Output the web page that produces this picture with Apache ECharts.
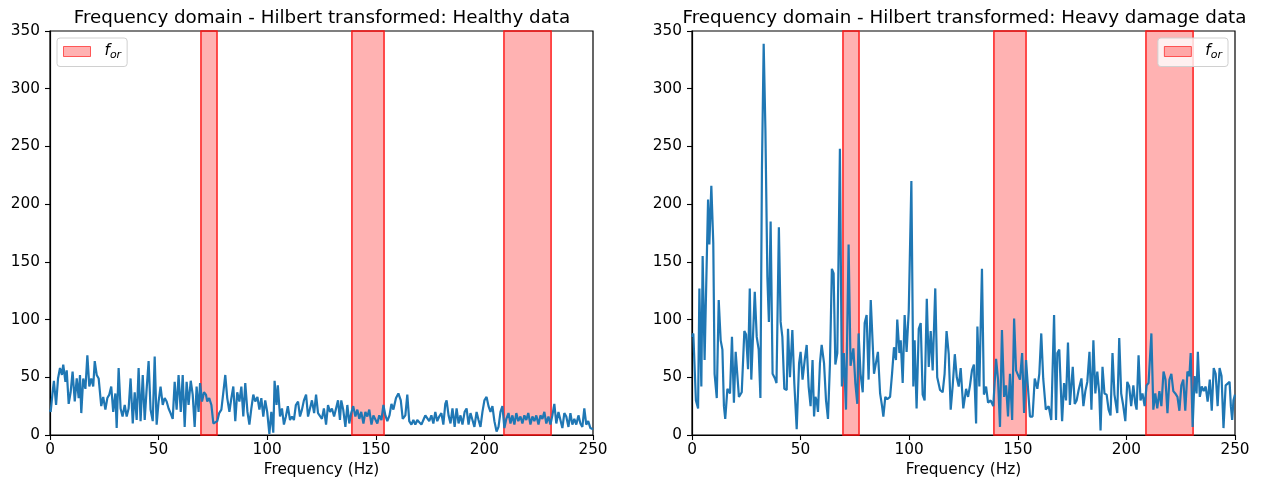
<!doctype html>
<html>
<head>
<meta charset="utf-8">
<title>Hilbert spectrum</title>
<script src="https://cdn.jsdelivr.net/npm/echarts@6/dist/echarts.min.js"></script>
<style>
  html, body { margin: 0; padding: 0; background: #fff; }
  #main { width: 1261px; height: 488px; }
</style>
</head>
<body>
<div id="main"></div>
<script>
var titles = ['Frequency domain - Hilbert transformed: Healthy data',
              'Frequency domain - Hilbert transformed: Heavy damage data'];
var xTicks = [0, 50, 100, 150, 200, 250];
var yTicks = [0, 50, 100, 150, 200, 250, 300, 350];
// shaded f_or bands, Hz
var bands = [[69.5, 76.9], [139, 153.8], [209, 230.7]];

// [frequency (Hz), amplitude]
var healthy = [
[0,22],[0.3,20],[1.2,37],[1.8,47],[2.8,26],[3.7,49],[4.6,58],[5.5,52],[6.1,61],[7.1,46],[7.7,56],[8.6,27],[9.5,37],
[10.4,55],[11.4,29],[12.3,49],[13.2,32],[13.8,52],[14.4,19],[15.3,49],[16.3,40],[17.2,69],[18.1,42],[19,49],[19.9,42],
[20.6,64],[21.5,52],[22.4,49],[23.6,25],[24.5,33],[25.5,22],[26.4,32],[27.3,35],[28.2,42],[29.1,20],[30.1,36],[30.7,6],
[31.6,58],[32.5,23],[33.4,16],[34.4,26],[35.3,16],[36.2,23],[37.1,49],[38.1,10],[39,37],[39.9,13],[40.8,58],[41.7,12],
[42.7,52],[43.6,13],[44.5,40],[45.4,64],[46.3,22],[47.3,12],[48.2,68],[49.1,9],[50,29],[50.9,42],[51.9,26],[52.8,32],
[53.7,29],[54.6,23],[55.5,19],[56.5,14],[57.4,46],[58.3,22],[59.2,52],[60.2,20],[61.1,52],[62,7],[62.9,46],[63.8,26],
[64.8,47],[65.7,35],[66.6,7],[67.5,42],[68.4,20],[69.1,45],[70,29],[70.9,37],[71.8,35],[72.4,29],[73.3,32],[74.3,26],
[75.2,10],[76.1,9],[77,12],[77.9,19],[78.9,22],[79.8,37],[80.7,52],[81.6,32],[82.6,20],[83.5,32],[84.4,42],[85.3,12],
[86.2,37],[87.2,29],[88.1,42],[89,16],[89.9,45],[90.9,20],[91.8,9],[92.7,23],[93.6,35],[94.5,29],[95.5,33],[96.4,22],
[97.3,32],[98.2,16],[99.1,30],[100,20],[101,1],[101.9,20],[102.8,2],[103.4,47],[104.3,26],[104.9,43],[105.9,16],
[106.8,23],[107.7,9],[108.6,16],[109.5,25],[110.5,13],[111.4,16],[112.3,13],[113.2,26],[114.2,29],[115.1,16],[116,22],
[116.9,30],[117.9,35],[118.8,16],[119.7,23],[120.6,30],[121.6,19],[122.5,35],[123.4,19],[124.3,18],[125.2,14],
[126.1,23],[127.1,9],[128,26],[128.9,20],[129.8,23],[130.8,16],[131.7,23],[132.6,30],[133.5,13],[134.1,30],[135,22],
[136,7],[136.9,26],[137.8,10],[138.7,19],[139.6,25],[140.6,16],[141.5,22],[142.4,14],[143.3,20],[144.3,10],[145.2,20],
[146.1,16],[147,22],[148,9],[148.9,17],[149.8,16],[150.7,10],[151.6,17],[152.6,13],[153.5,26],[154.4,17],[155.3,12],
[156.3,17],[157.2,27],[158.1,22],[159.3,32],[160.4,36],[161.5,30],[162.4,14],[163.6,17],[164.5,35],[165.4,12],
[166.4,9],[167.3,13],[168.2,9],[169.1,13],[170,14],[171,9],[171.9,13],[172.8,17],[173.7,16],[174.6,12],[175.6,17],
[176.5,10],[177.4,20],[178.3,12],[179.2,16],[180.2,19],[181.1,9],[182,27],[182.6,30],[183.5,17],[184.4,10],[185.3,23],
[186.3,7],[187.2,23],[188.1,10],[189,17],[189.9,9],[190.9,20],[191.8,23],[192.7,9],[193.6,19],[194.5,13],[195.4,7],
[196.4,20],[197.3,13],[198.2,7],[199.1,20],[200,30],[201,33],[201.9,25],[202.8,20],[203.7,25],[204.6,12],[205.6,3],
[206.5,7],[207.4,20],[208.3,25],[209.2,6],[210.1,14],[211.1,19],[212,10],[212.9,17],[213.8,9],[214.7,19],[215.6,12],
[216.6,16],[217.5,10],[218.4,17],[219.3,13],[220.2,19],[221.2,9],[222.1,16],[223,12],[223.9,17],[224.9,9],[225.8,17],
[226.7,14],[227.6,20],[228.5,10],[229.5,16],[230.4,9],[231.3,17],[232.2,27],[233.1,10],[234.1,20],[235,13],[235.9,6],
[236.8,19],[237.7,16],[238.7,7],[239.6,19],[240.5,9],[241.4,14],[242.3,9],[243.3,17],[244.2,10],[245.1,7],[246,23],
[246.9,9],[247.8,12],[248.8,6],[249.7,6],[250,5]
];

var damage = [
[0,85],[0.6,88],[1.8,30],[2.8,23],[3.4,127],[4.3,42],[4.9,155],[5.8,65],[7.4,204],[8,165],[8.9,216],[9.8,166],
[10.4,53],[11.4,32],[12.3,117],[13.2,82],[14,74],[14.7,25],[15.3,14],[16.3,40],[17.5,36],[18.4,85],[19.3,28],[20.1,72],
[20.9,72],[21.6,33],[22.9,37],[24.1,90],[24.9,87],[25.8,57],[26.6,127],[27.3,48],[28.9,124],[29.8,85],[30.7,74],
[31.5,32],[32.2,230],[33,339],[33.8,264],[34.7,137],[35.4,98],[36.2,185],[37.1,53],[38.2,49],[38.9,45],[40,180],
[40.8,98],[41.6,85],[42.5,40],[43.6,39],[44.2,92],[45.1,50],[46.2,91],[47.1,45],[48.2,5],[49.3,62],[50,72],[50.9,48],
[51.9,65],[52.8,78],[53.7,42],[54.6,25],[55.5,65],[56.2,16],[56.8,33],[57.4,30],[58,20],[58.9,62],[59.7,78],[60.8,62],
[61.7,30],[62.6,14],[63.5,61],[64.4,144],[65.2,140],[66,61],[66.9,71],[68.1,248],[69,42],[69.9,71],[70.9,22],[72.1,165],
[73,60],[74.3,75],[75.2,45],[76.1,27],[76.7,88],[77.6,53],[78.6,37],[79.5,97],[80.4,104],[81.3,48],[82.3,117],[83.8,53],
[84.7,52],[85.6,72],[86.6,36],[87.5,25],[88.1,16],[89,33],[89.9,31],[91.2,33],[92.1,53],[93,76],[93.9,65],[94.5,100],
[95.5,71],[96.1,82],[97,45],[97.9,104],[98.8,72],[99.8,108],[101,220],[101.9,42],[102.5,82],[103.4,23],[104.4,92],
[105.3,97],[106.2,35],[107.1,30],[108.1,118],[109,59],[109.9,90],[110.8,56],[112,127],[112.9,50],[114.2,39],[115.4,37],
[116.3,53],[117.2,90],[118.2,70],[119.1,22],[120,42],[121,70],[121.9,50],[122.8,42],[123.7,58],[124.9,23],[126.2,40],
[127.1,33],[128,43],[128.9,56],[129.8,61],[130.8,10],[131.4,94],[132.3,42],[133.5,144],[134.4,35],[135.4,42],[136.3,28],
[137.5,30],[138.7,25],[140,66],[140.9,48],[141.8,7],[142.7,91],[143.7,33],[144.6,43],[145.5,16],[146.4,53],[147.4,13],
[148.3,101],[149.2,56],[150.1,56],[151,48],[152,71],[152.9,19],[153.8,65],[154.7,66],[155.6,16],[156.8,16],[157.8,49],
[159,40],[159.9,53],[160.8,88],[161.7,49],[162.9,22],[164.2,25],[165.4,13],[166.7,104],[167.6,13],[168.2,71],[169.1,74],
[170.4,12],[171.3,45],[172.2,30],[173.1,80],[174,26],[175.3,59],[176.2,27],[177.1,30],[178,39],[179.3,49],[180.2,25],
[181.1,38],[182,46],[183,72],[183.9,22],[184.8,82],[185.7,36],[186.6,55],[187.5,36],[188.1,4],[189,59],[189.9,36],
[190.9,35],[191.8,22],[192.7,17],[193.6,71],[194.5,35],[195.8,19],[196.7,84],[197.6,36],[198.5,26],[199.5,12],[200.4,46],
[201.3,42],[202.2,25],[203.2,43],[204.1,27],[204.7,22],[205.6,69],[206.5,30],[207.4,36],[208.4,25],[209.3,43],[210.2,45],
[211.5,88],[212.4,22],[213.3,36],[214.2,23],[215.2,38],[216.1,25],[217.1,55],[218,48],[218.9,19],[219.8,48],[220.7,53],
[221.6,38],[222.5,36],[223.5,33],[224.4,21],[225.3,43],[226.2,48],[227.1,21],[228.1,55],[229,51],[229.6,71],[230.5,7],
[231.4,51],[232.3,36],[232.9,72],[233.8,33],[234.7,42],[235.6,38],[236.5,42],[237.4,29],[238.4,48],[239.3,21],[240.2,58],
[241.1,53],[242,25],[242.9,58],[243.8,51],[244.7,6],[245.7,43],[246.6,42],[247.5,46],[248.1,25],[248.7,13],[249.3,30],
[250,35]
];

var FONT = 'DejaVu Sans';
var myChart = echarts.init(document.getElementById('main'));

function xAxisFor(i) {
  return {
    type: 'value', gridIndex: i, min: xTicks[0], max: xTicks[xTicks.length - 1], interval: 50,
    name: 'Frequency (Hz)', nameLocation: 'middle', nameGap: 28,
    nameTextStyle: { color: '#000', fontSize: 15.3, fontFamily: FONT },
    axisLine: { show: true, onZero: false, lineStyle: { color: '#000', width: 1.2 } },
    axisTick: { show: true, length: 5, lineStyle: { color: '#000', width: 1.1 } },
    axisLabel: { color: '#000', fontSize: 15.3, fontFamily: FONT, margin: 8 },
    splitLine: { show: false }
  };
}
function yAxisFor(i) {
  return {
    type: 'value', gridIndex: i, min: yTicks[0], max: yTicks[yTicks.length - 1], interval: 50,
    axisLine: { show: true, lineStyle: { color: '#000', width: 1.2 } },
    axisTick: { show: true, length: 5, lineStyle: { color: '#000', width: 1.1 } },
    axisLabel: { color: '#000', fontSize: 15.3, fontFamily: FONT, margin: 10 },
    splitLine: { show: false }
  };
}
function bandSeries(i) {
  return {
    name: 'f_or', type: 'line', xAxisIndex: i, yAxisIndex: i, data: [], z: 1,
    itemStyle: { color: 'rgba(255,0,0,0.3)' },
    markArea: {
      silent: true,
      itemStyle: { color: 'rgba(255,0,0,0.3)', borderColor: 'rgba(255,20,20,0.95)', borderWidth: 1.5 },
      data: bands.map(function (b) { return [{ xAxis: b[0] }, { xAxis: b[1] }]; })
    }
  };
}
function signalSeries(i, data) {
  return {
    type: 'line', xAxisIndex: i, yAxisIndex: i, data: data, z: 3,
    symbol: 'none', showSymbol: false, animation: false,
    lineStyle: { color: '#1f77b4', width: 2.2 }
  };
}
function legendFor(pos) {
  var lg = {
    top: 38, orient: 'vertical', selectedMode: false,
    data: [{ name: 'f_or', icon: 'rect',
      itemStyle: { color: 'rgba(255,0,0,0.3)', borderColor: 'rgba(255,0,0,0.6)', borderWidth: 1 } }],
    itemWidth: 27, itemHeight: 10, itemGap: 6,
    backgroundColor: 'rgba(255,255,255,0.8)', borderColor: '#d0d0d0', borderWidth: 1, borderRadius: 3,
    padding: [6, 6, 6, 6],
    formatter: function () { return '{a|f}{b|or}'; },
    textStyle: {
      color: '#000', fontFamily: FONT,
      rich: {
        a: { fontSize: 15.3, fontStyle: 'italic', color: '#000', fontFamily: FONT, padding: [0, 0, 0, 9] },
        b: { fontSize: 11, fontStyle: 'italic', color: '#000', fontFamily: FONT, padding: [7, 0, 0, 0] }
      }
    }
  };
  for (var k in pos) lg[k] = pos[k];
  return lg;
}

var option = {
  animation: false,
  backgroundColor: '#fff',
  title: [
    { text: titles[0], left: 317, top: 4, textAlign: 'center',
      textStyle: { fontSize: 18.3, fontWeight: 'normal', color: '#000', fontFamily: FONT } },
    { text: titles[1], left: 959.5, top: 4, textAlign: 'center',
      textStyle: { fontSize: 18.3, fontWeight: 'normal', color: '#000', fontFamily: FONT } }
  ],
  legend: [legendFor({ left: 57 }), legendFor({ right: 33 })],
  grid: [
    { left: 50, top: 31, width: 543, height: 404, show: true, borderColor: '#000', borderWidth: 1.2 },
    { left: 692, top: 31, width: 543, height: 404, show: true, borderColor: '#000', borderWidth: 1.2 }
  ],
  xAxis: [xAxisFor(0), xAxisFor(1)],
  yAxis: [yAxisFor(0), yAxisFor(1)],
  series: [
    bandSeries(0), signalSeries(0, healthy),
    bandSeries(1), signalSeries(1, damage)
  ]
};
myChart.setOption(option);
</script>
</body>
</html>
